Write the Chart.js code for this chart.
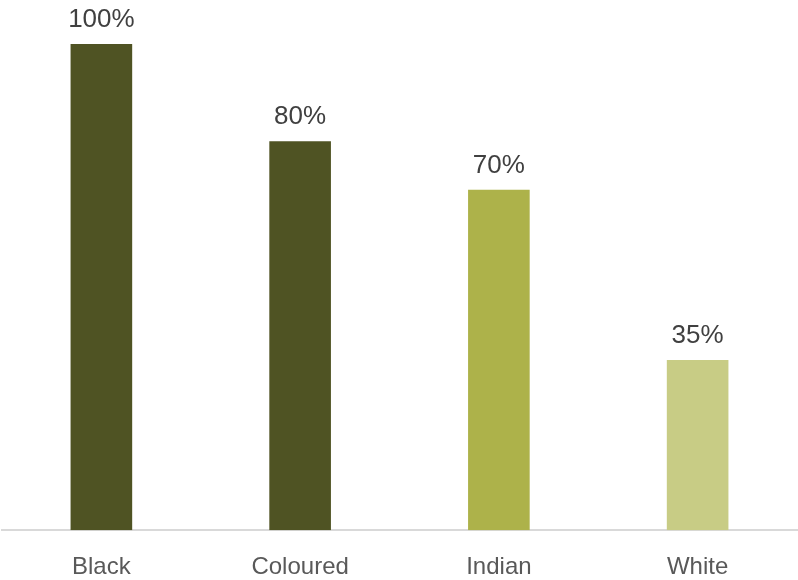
<!DOCTYPE html>
<html>
<head>
<meta charset="utf-8">
<script src="https://cdn.jsdelivr.net/npm/chart.js@4"></script>
<style>
  html, body { margin: 0; padding: 0; background: #fff; }
  #wrap { width: 798px; height: 580px; }
</style>
</head>
<body>
<div id="wrap"><canvas id="shareChart" width="798" height="580"></canvas></div>
<script>
const categories = ['Black', 'Coloured', 'Indian', 'White'];
const shares = [100, 80, 70, 35];
const barColours = ['#4f5323', '#4f5323', '#adb24a', '#c8cc85'];

// value labels above each bar
const valueLabels = {
    id: 'valueLabels',
    afterDatasetsDraw(chart) {
        const ctx = chart.ctx;
        const meta = chart.getDatasetMeta(0);
        ctx.save();
        ctx.font = '26px "Liberation Sans", Arial, sans-serif';
        ctx.fillStyle = '#404040';
        ctx.textAlign = 'center';
        ctx.textBaseline = 'alphabetic';
        meta.data.forEach((bar, i) => {
            ctx.fillText(shares[i] + '%', bar.x, bar.y - 17);
        });
        ctx.restore();
    }
};

new Chart(document.getElementById('shareChart'), {
    type: 'bar',
    data: {
        labels: categories,
        datasets: [{
            data: shares,
            backgroundColor: barColours,
            barPercentage: 0.62,
            categoryPercentage: 0.5
        }]
    },
    options: {
        responsive: false,
        animation: false,
        layout: { padding: { top: 44, left: 2, right: 1, bottom: -25 } },
        plugins: {
            legend: { display: false },
            tooltip: { enabled: false }
        },
        scales: {
            y: {
                display: false,
                min: 0,
                max: 100
            },
            x: {
                grid: { display: false, drawTicks: false },
                border: { color: '#d9d9d9', width: 2 },
                ticks: {
                    color: '#595959',
                    padding: 23,
                    font: { family: '"Liberation Sans", Arial, sans-serif', size: 24 }
                }
            }
        }
    },
    plugins: [valueLabels]
});
</script>
</body>
</html>
